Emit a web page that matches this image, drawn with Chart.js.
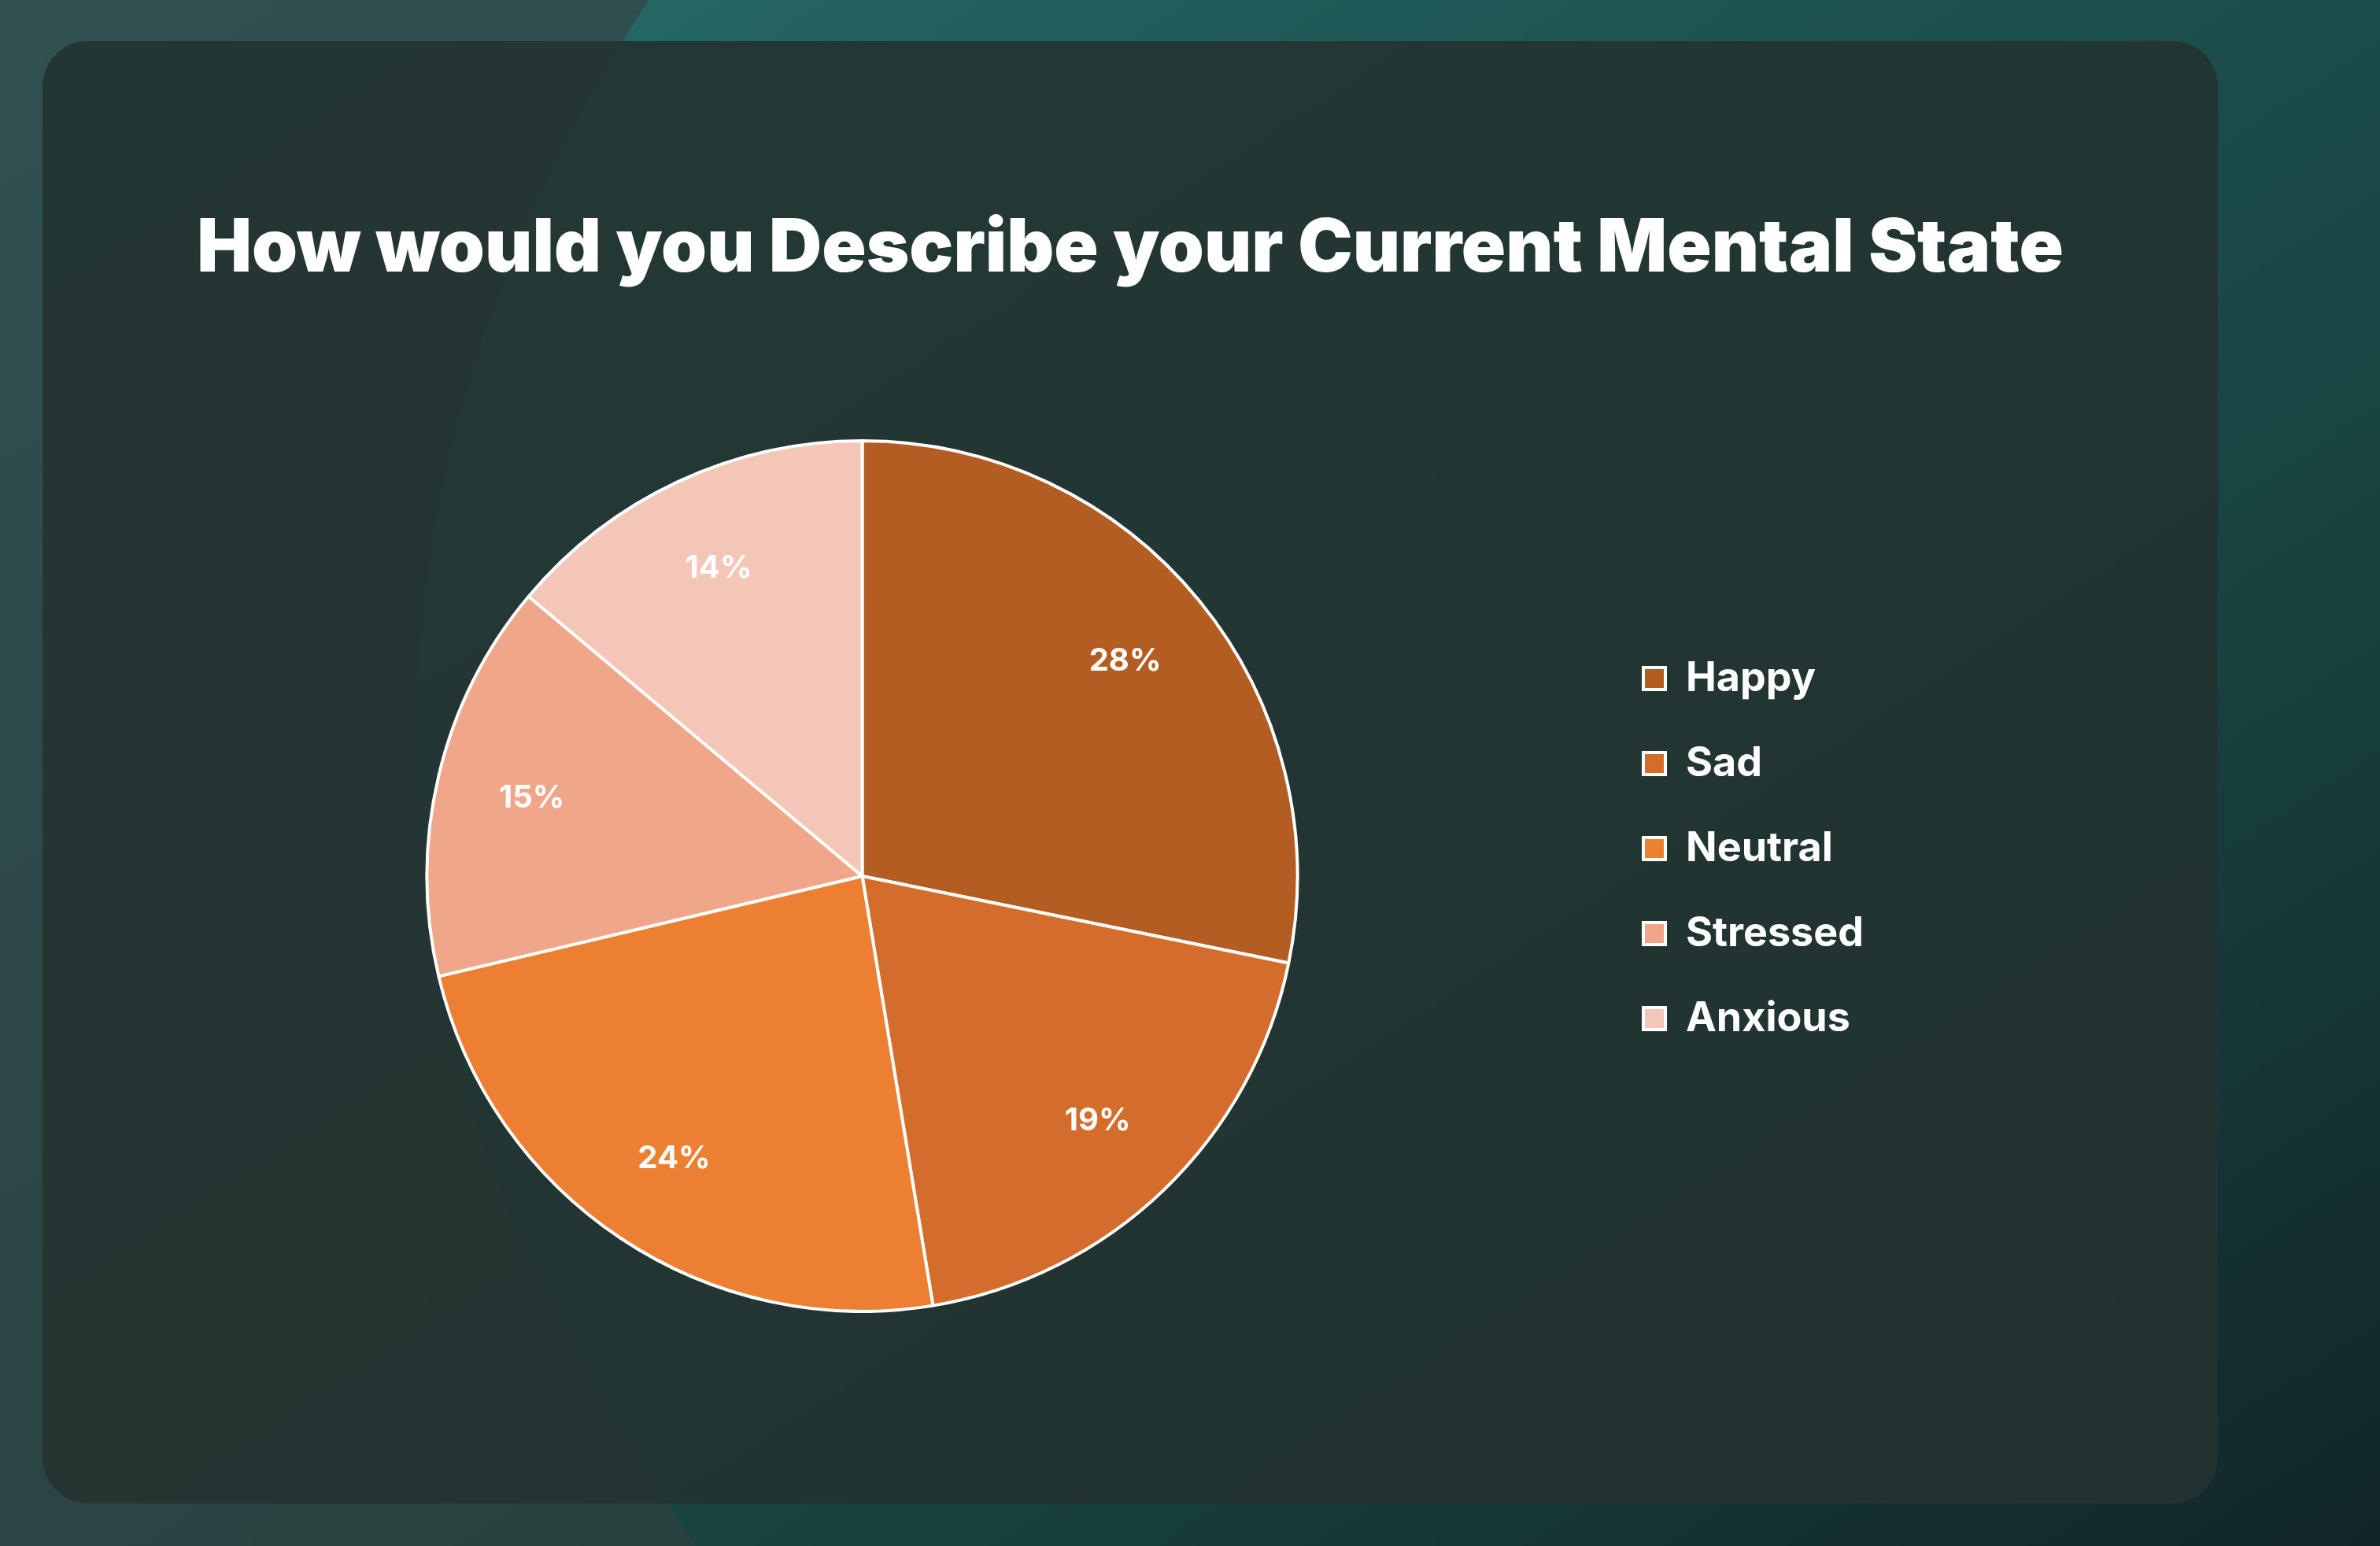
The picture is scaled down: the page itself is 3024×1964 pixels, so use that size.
<!DOCTYPE html>
<html>
<head>
<meta charset="utf-8">
<script src="https://cdn.jsdelivr.net/npm/chart.js@4.4.1/dist/chart.umd.min.js"></script>
<style>
  html, body {
    margin: 0;
    width: 3024px;
    height: 1964px;
    overflow: hidden;
  }
  body {
    position: relative;
    background: linear-gradient(to bottom right, #30514e 0%, #2a4543 50%, #233736 100%);
    font-family: 'Inter', 'Noto Sans', sans-serif;
  }
  /* teal area, its left edge is a soft curve */
  .teal {
    position: absolute;
    left: 0; top: 0;
    width: 3024px; height: 1964px;
    background: linear-gradient(to bottom right, #27726d 0%, #1e5553 35%, #184341 65%, #112629 100%);
    clip-path: path('M 824 0 C 420 620, 420 1330, 885 1964 L 3024 1964 L 3024 0 Z');
  }
  .card {
    position: absolute;
    left: 54px; top: 52px;
    width: 2764px; height: 1858px;
    border-radius: 58px;
    background: rgba(35, 51, 49, 0.9);
  }
  .title {
    position: absolute;
    left: 54px; top: 265px;
    width: 2764px;
    text-align: center;
    color: #ffffff;
    font-size: 93px;
    line-height: 93px;
    font-weight: 900;
    white-space: nowrap;
  }
  #mentalChart {
    position: absolute;
    left: 159px; top: 558px;
  }
</style>
</head>
<body>
<div class="teal"></div>
<div class="card"></div>
<div class="title">How would you Describe your Current Mental State</div>
<canvas id="mentalChart" width="2219" height="1110"></canvas>

<script>
// chart data (share of answers, in percent)
const states = ['Happy', 'Sad', 'Neutral', 'Stressed', 'Anxious'];
const shares = [28.2, 19.2, 23.9, 14.8, 13.9];
const sliceColors = ['#b35d23', '#d46d2b', '#ed7f33', '#f0a789', '#f4c6b7'];

// legend sits a little above the pie centre in the reference
const legendShift = 35;

const shiftLegend = {
  id: 'shiftLegend',
  afterLayout(chart) {
    chart.legend.top -= legendShift;
    chart.legend.bottom -= legendShift;
  }
};

// percent text inside every slice
const sliceLabels = {
  id: 'sliceLabels',
  afterDatasetsDraw(chart) {
    const ctx = chart.ctx;
    const meta = chart.getDatasetMeta(0);
    const total = shares.reduce((a, b) => a + b, 0);
    ctx.save();
    ctx.fillStyle = '#ffffff';
    ctx.font = 'bold 40px Inter';
    ctx.textAlign = 'center';
    ctx.textBaseline = 'middle';
    meta.data.forEach((arc, i) => {
      const p = arc.getProps(['x', 'y', 'startAngle', 'endAngle', 'outerRadius'], true);
      const mid = (p.startAngle + p.endAngle) / 2;
      const r = p.outerRadius * 0.78;
      const pct = Math.round(shares[i] / total * 100) + '%';
      ctx.fillText(pct, p.x + Math.cos(mid) * r, p.y + Math.sin(mid) * r);
    });
    ctx.restore();
  }
};

const config = {
  type: 'pie',
  data: {
    labels: states,
    datasets: [{
      data: shares,
      backgroundColor: sliceColors,
      borderColor: '#ffffff',
      borderWidth: 4
    }]
  },
  options: {
    responsive: false,
    animation: false,
    events: [],
    layout: { padding: 0 },
    plugins: {
      title: { display: false },
      tooltip: { enabled: false },
      legend: {
        position: 'right',
        labels: {
          color: '#ffffff',
          font: { family: 'Inter', size: 52, weight: 'bold' },
          boxWidth: 28,
          boxHeight: 28,
          padding: 56
        }
      }
    }
  },
  plugins: [shiftLegend, sliceLabels]
};

const myChart = new Chart(document.getElementById('mentalChart'), config);
</script>
</body>
</html>
